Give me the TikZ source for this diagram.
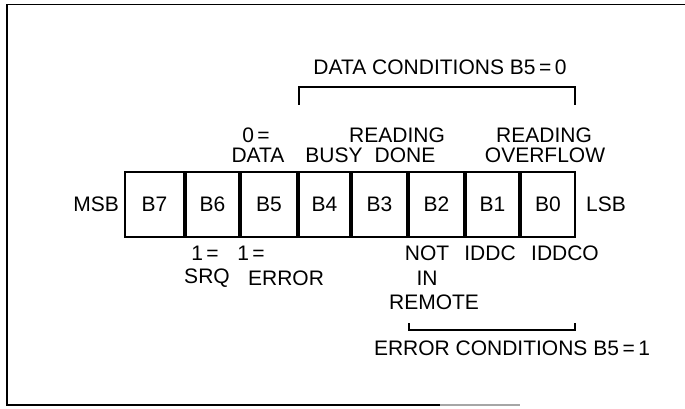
\documentclass[tikz,border=0pt]{standalone}
\usepackage{fontspec}
\setmainfont{Liberation Sans}
\usetikzlibrary{positioning}

\begin{document}
\begin{tikzpicture}[x=1pt, y=-1pt,
  every node/.style={font=\fontsize{21}{25}\selectfont, inner sep=0pt, outer sep=0pt},
  bit/.style={draw, line width=1.8pt, minimum height=67pt-\pgflinewidth},
  bracket/.style={line width=1.5pt},
  frame/.style={line width=1.6pt}]
\useasboundingbox (0,0) rectangle (685,409);

% outer frame
\draw[frame] (685,4.5) -- (7,4.5) -- (7,405) -- (440,405);
\draw[frame, black!35] (440,405) -- (520,405);

% status byte
\node[bit, minimum width=61pt-\pgflinewidth] (b7) at (154.5,204.5) {B7};
\node[bit, minimum width=55pt-\pgflinewidth] (b6) at (212.5,204.5) {B6};
\node[bit, minimum width=58pt-\pgflinewidth] (b5) at (269,204.5) {B5};
\node[bit, minimum width=53pt-\pgflinewidth] (b4) at (324.5,204.5) {B4};
\node[bit, minimum width=57pt-\pgflinewidth] (b3) at (379.5,204.5) {B3};
\node[bit, minimum width=57pt-\pgflinewidth] (b2) at (436.5,204.5) {B2};
\node[bit, minimum width=55pt-\pgflinewidth] (b1) at (492.5,204.5) {B1};
\node[bit, minimum width=56pt-\pgflinewidth] (b0) at (548,204.5) {B0};

\node[left=6pt of b7] (msb) {MSB};
\node[right=11pt of b0] (lsb) {LSB};

% labels above
\node (zero) at (256,135) {0\,=};
\node (data) at (258,155) {DATA};
\node (busy) at (334,155) {BUSY};
\node (rdone) at (397,135) {READING};
\node (done) at (405,155) {DONE};
\node (rover) at (544,135) {READING};
\node (over) at (545,155) {OVERFLOW};

% labels below
\node (one6) at (205,253) {1\,=};
\node (srq) at (207,278) {SRQ};
\node (one5) at (251,253) {1\,=};
\node (err) at (286,278) {ERROR};
\node (nt) at (427,253) {NOT};
\node (in) at (427,278) {IN};
\node (remote) at (434,302) {REMOTE};
\node (iddc) at (490,253) {IDDC};
\node (iddco) at (565,253) {IDDCO};

% condition brackets
\node (datacond) at (440,67) {DATA CONDITIONS B5\,=\,0};
\draw[bracket] (b4.north west |- 0,105) -- (b4.north west |- 0,87) -| (b0.north east |- 0,105);
\draw[bracket] (b2.south west |- 0,323) -- (b2.south west |- 0,330) -| (b0.south east |- 0,323);
\node (errcond) at (512,348) {ERROR CONDITIONS B5\,=\,1};
\end{tikzpicture}
\end{document}
